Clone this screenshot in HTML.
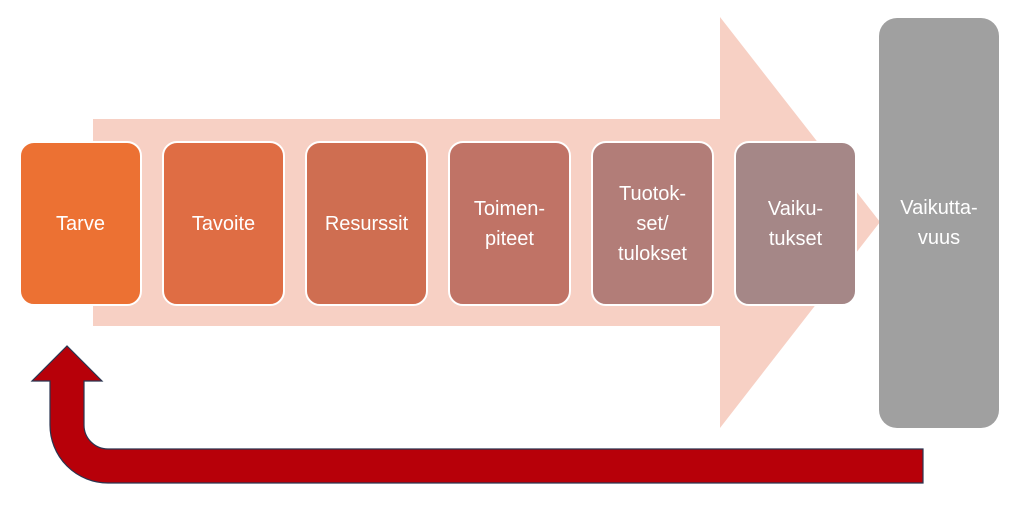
<!DOCTYPE html>
<html><head><style>
body{margin:0;width:1024px;height:508px;background:#fff;position:relative;overflow:hidden;font-family:"Liberation Sans",sans-serif}
.b{position:absolute;top:141px;width:119px;height:161px;border:2px solid #fff;border-radius:15px;color:#fff;font-size:20px;display:flex;align-items:center;justify-content:center;text-align:center;line-height:30px;box-sizing:content-box}
</style></head><body>
<svg width="1024" height="508" style="position:absolute;left:0;top:0">
<polygon points="93,119 720,119 720,17 880,222 720,428 720,326 93,326" fill="#F7D0C4"/>
<rect x="879" y="18" width="120" height="410" rx="18" fill="#A0A0A0"/>
<path d="M923,449 L108,449 A24,24 0 0 1 84,425 L84,381 L102,381 L67,346 L32,381 L50,381 L50,425 A58,58 0 0 0 108,483 L923,483 Z" fill="#B70009" stroke="#2a3550" stroke-width="1.2"/>
</svg>
<div class="b" style="left:19px;background:#EC7133">Tarve</div>
<div class="b" style="left:162px;background:#DF6D44">Tavoite</div>
<div class="b" style="left:305px;background:#CF6E51">Resurssit</div>
<div class="b" style="left:448px;background:#C07366">Toimen-<br>piteet</div>
<div class="b" style="left:591px;background:#B27D78">Tuotok-<br>set/<br>tulokset</div>
<div class="b" style="left:734px;background:#A58787">Vaiku-<br>tukset</div>
<div style="position:absolute;left:879px;top:193px;width:120px;text-align:center;color:#fff;font-size:20px;line-height:30px">Vaikutta-<br>vuus</div>
</body></html>
